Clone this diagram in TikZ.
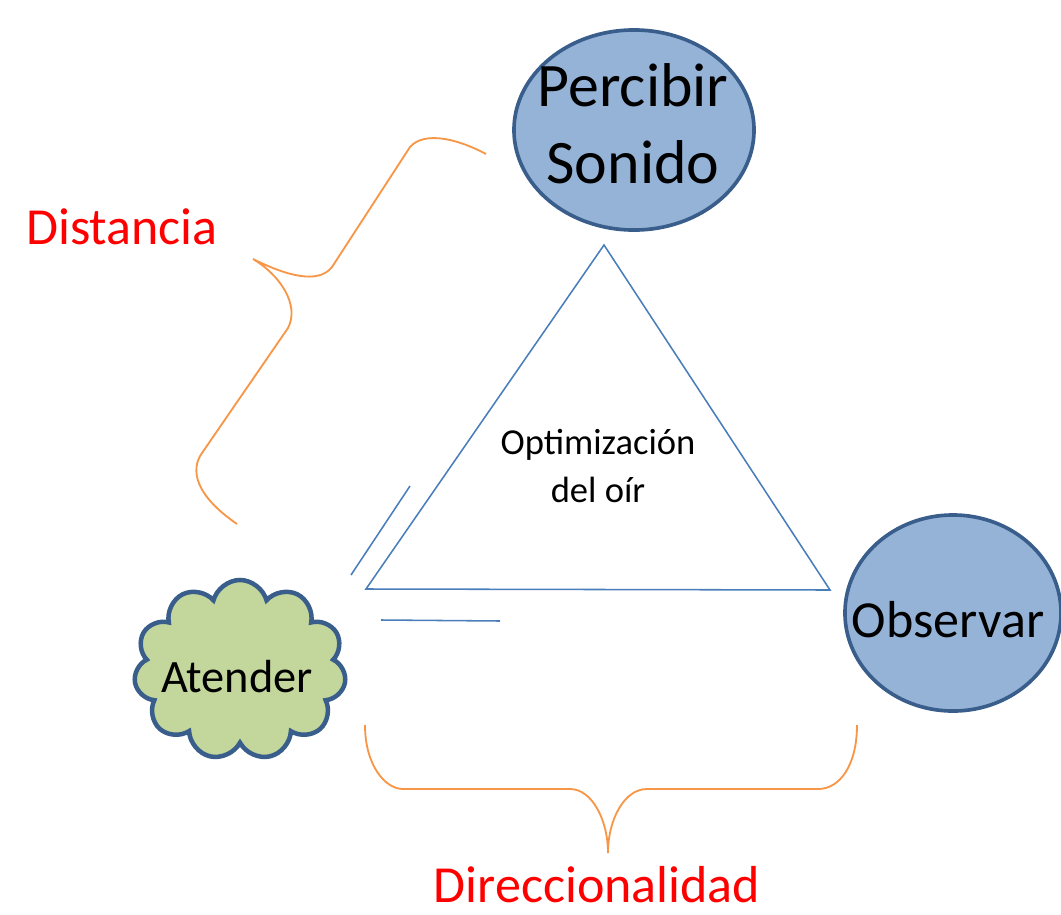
\documentclass[tikz,border=0pt]{standalone}
\usepackage{fontspec}
\setmainfont{Carlito}
\usetikzlibrary{shapes.symbols,shapes.geometric}
\definecolor{ellfill}{HTML}{95B3D7}
\definecolor{ellline}{HTML}{3A5E8C}
\definecolor{cloudfill}{HTML}{C3D69B}
\definecolor{triline}{HTML}{4A7EBB}
\definecolor{brace}{HTML}{F79646}
\definecolor{labelred}{HTML}{FF0000}
\tikzset{
  bubble/.style={ellipse, draw=ellline, line width=2.6pt, fill=ellfill, inner sep=0pt},
  puff/.style={cloud, cloud puffs=11, cloud ignores aspect, draw=ellline, line width=3.2pt, fill=cloudfill, inner sep=0pt},
  tri/.style={draw=triline, line width=1.1pt},
  bracket/.style={draw=brace, line width=1.3pt},
  redlabel/.style={text=labelred, font=\fontsize{37}{44}\selectfont, inner sep=0pt},
}
\begin{document}
\begin{tikzpicture}[x=0.025cm, y=-0.025cm]
\useasboundingbox (0,0) rectangle (1061,915);
% nodes
\node[bubble, minimum width=6.0cm, minimum height=5.0cm] (percibir) at (634,130) {};
\node[align=center, font=\fontsize{44}{55}\selectfont, inner sep=0pt] (percibirtext) at (633,124) {Percibir\\Sonido};
\node[bubble, minimum width=5.4cm, minimum height=4.9cm] (observar) at (953,613) {};
\node[font=\fontsize{37}{44}\selectfont, inner sep=0pt] (observartext) at (948,620) {Observar};
\node[puff, minimum width=5.3cm, minimum height=4.5cm] (atender) at (240,670) {};
\node[font=\fontsize{33}{40}\selectfont, inner sep=0pt] (atendertext) at (237,677) {Atender};
% triangle
\coordinate (ta) at (604,245);
\coordinate (tl) at (366,589);
\coordinate (tr) at (830,590);
\draw[tri] (ta) -- (tl) -- (tr) -- cycle;
\node[align=center, font=\fontsize{26}{34}\selectfont, inner sep=0pt] (optim) at (598,466) {Optimización\\del oír};
% extra strokes
\coordinate (s1a) at (351,575); \coordinate (s1b) at (410,486);
\coordinate (s2a) at (381,620); \coordinate (s2b) at (500,621);
\draw[tri] (s1a) -- (s1b);
\draw[tri] (s2a) -- (s2b);
% left brace
\coordinate (lb1) at (486,154);
\coordinate (lb2) at (410,147);
\coordinate (lb3) at (332,267);
\coordinate (lbt) at (253,259);
\coordinate (lb4) at (288,328);
\coordinate (lb5) at (202,453);
\coordinate (lb6) at (237,524);
\draw[bracket] (lb1) .. controls (460,140) and (425,130) .. (lb2)
  -- (lb3) .. controls (318,285) and (285,275) .. (lbt)
  .. controls (280,275) and (300,305) .. (lb4)
  -- (lb5) .. controls (190,470) and (195,495) .. (lb6);
% bottom brace
\coordinate (bb1) at (365,725);
\coordinate (bb2) at (403,789);
\coordinate (bb3) at (570,789);
\coordinate (bbt) at (608,853);
\coordinate (bb4) at (647,789);
\coordinate (bb5) at (818,789);
\coordinate (bb6) at (857,725);
\draw[bracket] (bb1) .. controls (365,765) and (385,789) .. (bb2)
  -- (bb3) .. controls (592,789) and (608,820) .. (bbt)
  .. controls (608,820) and (624,789) .. (bb4)
  -- (bb5) .. controls (840,789) and (857,765) .. (bb6);
% labels
\node[redlabel, anchor=base] (distancia) at (122,244) {Distancia};
\node[redlabel, anchor=base] (direcc) at (597,902) {Direccionalidad};
\end{tikzpicture}
\end{document}
